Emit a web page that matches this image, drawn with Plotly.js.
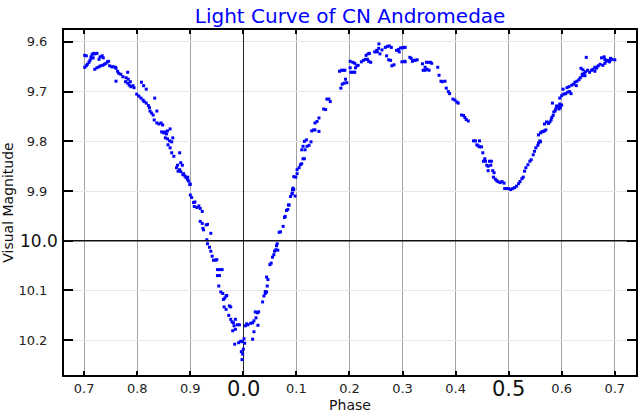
<!DOCTYPE html>
<html>
<head>
<meta charset="utf-8">
<script src="https://cdn.plot.ly/plotly-3.0.1.min.js"></script>
<style>html,body{margin:0;padding:0;background:#fff;}#chart{width:640px;height:416px;}</style>
</head>
<body>
<div id="chart"></div>
<script>
// Phase measured from primary minimum (-0.3 .. 0.7, shown as 0.7 .. 0.7)
const phase = [
-0.299,-0.296,-0.299,-0.296,-0.294,-0.291,-0.289,-0.287,-0.285,-0.282,-0.280,-0.276,-0.287,-0.283,
-0.280,-0.276,-0.272,-0.269,-0.265,-0.262,-0.259,-0.256,-0.254,-0.270,-0.266,-0.264,-0.272,
-0.252,-0.248,-0.245,-0.241,-0.240,-0.237,-0.235,-0.240,-0.231,-0.227,
-0.221,-0.218,-0.222,-0.218,-0.215,-0.212,-0.208,-0.206,-0.217,-0.213,
-0.192,-0.188,-0.183,-0.201,-0.197,-0.193,-0.189,-0.187,-0.183,-0.179,-0.177,
-0.176,-0.173,-0.170,-0.167,-0.168,-0.163,-0.159,-0.155,-0.152,-0.163,
-0.154,-0.150,-0.148,-0.145,-0.143,-0.138,-0.147,-0.143,-0.139,-0.135,-0.133,
-0.142,-0.138,-0.135,-0.131,-0.120,-0.118,-0.124,-0.126,-0.123,-0.120,-0.118,
-0.115,-0.114,-0.110,-0.108,-0.105,-0.103,-0.101,-0.1125,-0.105,-0.100,
-0.100,-0.0975,-0.0938,-0.0913,-0.0925,-0.0875,-0.0838,-0.0813,-0.0775,
-0.0813,-0.0775,-0.070,-0.0675,-0.075,-0.0763,-0.0613,
-0.0688,-0.0675,-0.0638,-0.0613,-0.0588,-0.0563,-0.0525,-0.050,
-0.0488,-0.045,-0.040,-0.0488,-0.045,
-0.0463,-0.0425,-0.0388,-0.035,-0.0325,-0.0313,-0.0375,
-0.0363,-0.0325,-0.0263,-0.0238,-0.0275,-0.0238,-0.0213,-0.0188,-0.0175,-0.020,-0.015,-0.0113,-0.0075,-0.015,
-0.0163,-0.0088,-0.005,-0.0025,0.0013,0.0025,0.0,-0.0038,-0.0013,-0.0025,
0.0038,0.0063,0.0088,0.0138,0.0175,0.020,0.0238,0.0263,0.0288,0.0225,0.0175,0.020,0.0275,
0.0363,0.0388,0.0413,0.0438,0.045,0.0438,0.0463,0.0413,
0.050,0.0525,0.055,0.0575,0.0588,0.0613,0.0625,0.0638,0.065,
0.0675,0.070,0.075,0.0775,0.0813,0.0838,0.0863,0.0888,0.0913,0.0925,0.0938,0.095,
0.0788,0.085,0.0925,0.095,0.0975,0.0988,0.1013,
0.1013,0.105,0.1075,0.110,0.1125,0.115,
0.110,0.1125,0.1163,0.115,0.1188,0.120,0.1238,0.1275,
0.1288,0.1325,0.135,0.1425,0.135,0.1388,0.1425,
0.1513,0.155,0.1575,0.1613,0.1638,
0.1838,0.1863,0.190,0.1925,0.195,
0.1813,0.185,0.1888,0.1913,
0.2013,0.2025,0.2063,0.210,0.2013,0.2063,0.210,0.2138,0.2113,0.2163,
0.2225,0.2263,0.230,0.2338,0.2363,0.240,
0.2313,0.235,0.2375,
0.2475,0.2513,0.255,0.2555,0.2575,0.2613,0.2525,
0.2675,0.2713,0.275,0.2788,0.270,0.2738,0.2775,0.280,0.284,
0.2888,0.2925,0.2963,0.300,0.2938,0.2988,0.305,
0.3025,0.305,0.3038,
0.3138,0.3163,0.3188,0.3213,0.3238,0.3275,
0.3375,0.3388,0.3425,0.345,0.3488,0.3525,0.355,0.350,0.3425,0.3463,
0.3663,0.3688,0.3725,0.375,0.380,
0.3825,0.3863,0.3888,
0.395,0.3988,0.4025,0.405,
0.4113,0.415,0.4175,0.420,0.4238,
0.4338,0.4375,0.445,0.440,0.4425,0.445,0.44875,0.45125,
0.455,0.4525,0.4588,0.4563,0.4638,0.4675,0.4663,0.4613,0.470,0.4725,0.4613,
0.4713,0.475,0.4775,0.480,0.4838,0.4875,0.4913,
0.4925,0.4963,0.500,0.5038,0.5075,0.5113,0.515,0.5188,
0.5213,0.525,0.5275,
0.530,0.5325,0.5363,0.540,0.5425,
0.5463,0.5488,0.5513,0.555,0.5563,0.5588,0.560,
0.5563,0.560,0.5625,0.565,0.5675,0.570,
0.5675,0.5713,0.575,0.5775,0.580,0.5813,0.5838,
0.585,0.5875,0.5888,0.5913,0.5938,0.5963,0.595,0.5975,0.600,0.590,0.5825,
0.5963,0.600,0.6038,0.6075,0.6113,0.615,0.6175,
0.6025,0.610,0.6138,0.6188,0.6225,0.625,0.6288,0.6325,0.6275,
0.635,0.6388,0.6363,0.640,0.6463,
0.6388,0.6425,0.645,0.6488,0.6438,0.6525,0.6563,0.6588,0.6625,0.6663,0.6688,0.6725,0.675,0.6775,0.6813,0.6838,0.6863,0.690,0.6925,0.695,0.6813,0.665,0.6625,
0.680,0.692,0.700
];
const magnitude = [
9.627,9.628,9.651,9.648,9.645,9.641,9.637,9.633,9.625,9.623,9.624,9.623,9.630,9.632,
9.655,9.652,9.650,9.648,9.647,9.645,9.643,9.640,9.639,9.630,9.628,9.632,9.635,
9.648,9.650,9.650,9.651,9.653,9.659,9.663,9.679,9.665,9.670,
9.672,9.661,9.680,9.683,9.687,9.690,9.688,9.692,9.675,9.680,
9.681,9.688,9.695,9.705,9.709,9.713,9.717,9.720,9.723,9.728,9.732,
9.739,9.743,9.747,9.713,9.757,9.763,9.765,9.763,9.767,9.739,
9.781,9.783,9.781,9.785,9.779,9.775,9.793,9.795,9.799,9.801,9.793,
9.807,9.813,9.823,9.830,9.823,9.843,9.848,9.853,9.860,9.857,9.861,
9.848,9.867,9.870,9.873,9.877,9.880,9.887,9.865,9.872,9.886,
9.908,9.913,9.923,9.922,9.931,9.933,9.930,9.935,9.941,
9.961,9.965,9.968,9.967,9.978,9.975,9.985,
9.998,10.006,10.013,10.021,10.031,10.039,10.039,10.038,
10.058,10.058,10.058,10.070,10.070,
10.091,10.103,10.106,10.115,10.111,10.110,10.118,
10.133,10.138,10.131,10.133,10.150,10.158,10.163,10.165,10.171,10.181,10.178,10.169,10.169,10.158,
10.208,10.205,10.202,10.203,10.197,10.206,10.218,10.223,10.228,10.239,
10.171,10.167,10.169,10.166,10.165,10.161,10.155,10.145,10.143,10.143,10.198,10.183,10.170,
10.123,10.111,10.106,10.103,10.091,10.073,10.078,10.102,
10.048,10.045,10.033,10.028,10.021,10.018,10.010,10.006,10.019,
9.983,9.982,9.971,9.953,9.939,9.937,9.928,9.911,9.906,9.897,9.894,9.871,
9.951,9.928,9.904,9.897,9.910,9.872,9.865,
9.857,9.853,9.847,9.845,9.835,9.835,
9.817,9.810,9.817,9.800,9.797,9.810,9.808,9.801,
9.779,9.777,9.777,9.780,9.763,9.760,9.753,
9.735,9.736,9.715,9.715,9.720,
9.693,9.685,9.683,9.675,9.682,
9.659,9.657,9.657,9.657,
9.652,9.661,9.661,9.661,9.639,9.641,9.643,9.648,9.652,9.647,
9.640,9.637,9.635,9.635,9.639,9.641,
9.627,9.624,9.623,
9.620,9.617,9.613,9.604,9.624,9.616,9.620,
9.611,9.609,9.608,9.611,9.628,9.636,9.637,9.648,9.646,
9.617,9.615,9.612,9.612,9.620,9.640,9.640,
9.611,9.611,9.639,
9.631,9.633,9.639,9.637,9.637,9.636,
9.644,9.657,9.657,9.641,9.641,9.641,9.643,9.657,9.651,9.655,
9.651,9.667,9.679,9.680,9.679,
9.693,9.700,9.704,
9.715,9.717,9.721,9.723,
9.747,9.748,9.752,9.756,9.759,
9.799,9.799,9.799,9.807,9.809,9.811,9.811,9.823,
9.835,9.840,9.848,9.840,9.840,9.840,9.848,9.859,9.859,9.863,9.850,
9.872,9.876,9.879,9.881,9.883,9.881,9.884,
9.895,9.895,9.895,9.897,9.895,9.893,9.890,9.885,
9.881,9.875,9.872,
9.860,9.853,9.847,9.840,9.837,
9.827,9.820,9.813,9.808,9.803,9.799,9.801,
9.787,9.783,9.781,9.780,9.779,9.777,
9.765,9.761,9.764,9.761,9.757,9.752,9.748,
9.741,9.739,9.735,9.731,9.729,9.725,9.735,9.732,9.727,9.729,9.723,
9.713,9.708,9.705,9.704,9.701,9.700,9.704,
9.695,9.692,9.690,9.687,9.685,9.681,9.679,9.676,9.688,
9.672,9.668,9.653,9.656,9.631,
9.665,9.663,9.660,9.657,9.668,9.661,9.657,9.655,9.659,9.651,9.648,9.645,9.632,9.647,9.643,9.639,9.637,9.640,9.636,9.635,9.635,9.653,9.651,
9.630,9.633,9.636
];
// Tick labels (the emphasised ones are drawn larger as annotations)
const xTickVals = [-0.3,-0.2,-0.1,0.0,0.1,0.2,0.3,0.4,0.5,0.6,0.7];
const xTickText = ['0.7','0.8','0.9','','0.1','0.2','0.3','0.4','','0.6','0.7'];
const xBigVals = [0.0, 0.5];
const xBigText = ['0.0', '0.5'];
const yTickVals = [9.6,9.7,9.8,9.9,10.0,10.1,10.2];
const yTickText = ['9.6','9.7','9.8','9.9','','10.1','10.2'];
const yBigVals = [10.0];
const yBigText = ['10.0'];

const trace = {
  x: phase, y: magnitude, type: 'scatter', mode: 'markers',
  marker: {symbol: 'square', size: 3, color: '#0000ff', line: {width: 0}},
  hoverinfo: 'skip'
};
const font = 'DejaVu Sans, sans-serif';
const annotations = [];
xBigVals.forEach((v, i) => annotations.push({
  x: v, xref: 'x', y: 0, yref: 'paper', text: xBigText[i], showarrow: false,
  xanchor: 'center', yanchor: 'middle', yshift: -14,
  font: {family: font, size: 21, color: '#111'}
}));
yBigVals.forEach((v, i) => annotations.push({
  x: 0, xref: 'paper', y: v, yref: 'y', text: yBigText[i], showarrow: false,
  xanchor: 'right', yanchor: 'middle', xshift: -4,
  font: {family: font, size: 17, color: '#111'}
}));
const layout = {
  width: 640, height: 416,
  margin: {l: 64, r: 4, t: 30, b: 41},
  paper_bgcolor: '#ffffff', plot_bgcolor: '#ffffff',
  showlegend: false,
  font: {family: font, size: 13, color: '#222'},
  title: {text: 'Light Curve of CN Andromedae', font: {family: font, size: 20, color: '#0000ff'},
          x: 0.547, xanchor: 'center', y: 0.962, yanchor: 'middle'},
  xaxis: {
    range: [-0.338, 0.74], tickmode: 'array', tickvals: xTickVals, ticktext: xTickText,
    showgrid: true, gridcolor: '#a0a0a0', gridwidth: 1,
    zeroline: true, zerolinecolor: '#222', zerolinewidth: 1.3,
    showline: true, linecolor: '#000', linewidth: 2, mirror: 'ticks',
    ticks: 'inside', ticklen: 4, tickwidth: 2, tickcolor: '#000',
    tickfont: {family: font, size: 13, color: '#222'},
    title: {text: 'Phase', font: {family: font, size: 14, color: '#111'}, standoff: 6}
  },
  yaxis: {
    range: [10.27, 9.576], tickmode: 'array', tickvals: yTickVals, ticktext: yTickText,
    showgrid: true, gridcolor: '#e6e6e6', gridwidth: 1, zeroline: false,
    showline: true, linecolor: '#000', linewidth: 2, mirror: 'ticks',
    ticks: 'inside', ticklen: 9, tickwidth: 2, tickcolor: '#000',
    ticklabelstandoff: 12,
    tickfont: {family: font, size: 13, color: '#222'},
    title: {text: 'Visual Magnitude', font: {family: font, size: 14, color: '#111'}, standoff: 6}
  },
  annotations: annotations,
  shapes: [{type: 'line', xref: 'paper', x0: 0, x1: 1, yref: 'y', y0: 10.0, y1: 10.0,
            line: {color: '#111', width: 1.5}, layer: 'above'}]
};
Plotly.newPlot('chart', [trace], layout, {displayModeBar: false, staticPlot: true});
</script>
</body>
</html>
